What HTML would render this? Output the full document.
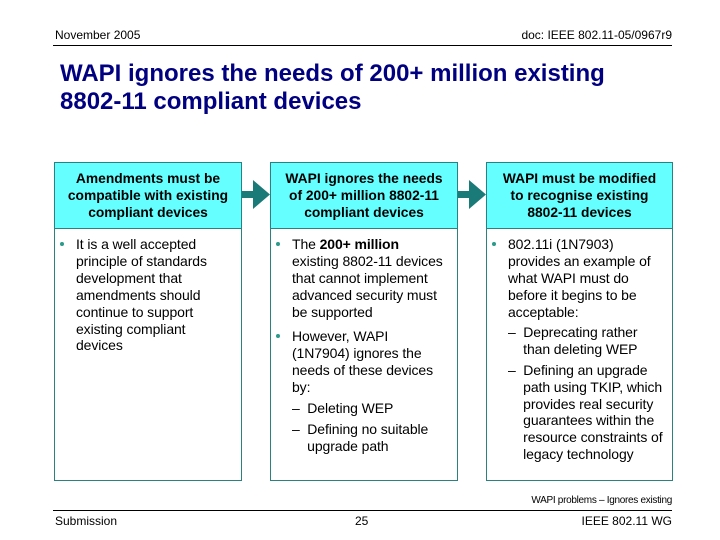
<!DOCTYPE html>
<html><head><meta charset="utf-8"><style>
body{margin:0;width:720px;height:540px;background:#fff;position:relative;overflow:hidden;font-family:"Liberation Sans",Arial,sans-serif;color:#000}
.a{position:absolute;white-space:nowrap}
.t{font-size:14px;line-height:16px;letter-spacing:-0.1px}
.box{position:absolute;border:1px solid #2d8080;box-sizing:border-box}
.hd{position:absolute;background:#66ffff;border:1px solid #2d8080;box-sizing:border-box;font-weight:bold;font-size:13.8px;line-height:17px;text-align:center;padding-top:7px}
.bul{position:absolute;width:4px;height:4px;border-radius:2px;background:#2a9a8a}
</style></head><body>
<div class="a" style="left:55px;top:28px;font-size:12px">November 2005</div>
<div class="a" style="right:48px;top:28px;font-size:12px">doc: IEEE 802.11-05/0967r9</div>
<div class="a" style="left:53px;top:45px;width:619px;height:1px;background:#000"></div>
<div class="a" style="left:60px;top:60px;font-size:24px;font-weight:bold;color:#000080;line-height:28px">WAPI ignores the needs of 200+ million existing<br>8802-11 compliant devices</div>

<div class="box" style="left:54px;top:162px;width:188px;height:319px"></div>
<div class="hd" style="left:54px;top:162px;width:188px;height:67px">Amendments must be<br>compatible with existing<br>compliant devices</div>
<div class="box" style="left:270px;top:162px;width:188px;height:319px"></div>
<div class="hd" style="left:270px;top:162px;width:188px;height:67px">WAPI ignores the needs<br>of 200+ million 8802-11<br>compliant devices</div>
<div class="box" style="left:486px;top:162px;width:187px;height:319px"></div>
<div class="hd" style="left:486px;top:162px;width:187px;height:67px">WAPI must be modified<br>to recognise existing<br>8802-11 devices</div>

<svg class="a" style="left:0;top:0" width="720" height="540">
<path d="M242 191 H253 V180 L270 194.5 L253 209 V198 H242 Z" fill="#1a7a78"/>
<path d="M458 191 H469 V180 L486 194.5 L469 209 V198 H458 Z" fill="#1a7a78"/>
</svg>

<!-- column 1 -->
<div class="bul" style="left:60px;top:242px"></div>
<div class="a t" style="left:76px;top:236px;line-height:16.9px">It is a well accepted<br>principle of standards<br>development that<br>amendments should<br>continue to support<br>existing compliant<br>devices</div>

<!-- column 2 -->
<div class="bul" style="left:276px;top:242px"></div>
<div class="a t" style="left:292px;top:236px;line-height:16.9px">The <b>200+ million</b><br>existing 8802-11 devices<br>that cannot implement<br>advanced security must<br>be supported</div>
<div class="bul" style="left:276px;top:334px"></div>
<div class="a t" style="left:292px;top:328px;line-height:16.9px">However, WAPI<br>(1N7904) ignores the<br>needs of these devices<br>by:</div>
<div class="a t" style="left:292px;top:400px">–&nbsp; Deleting WEP</div>
<div class="a t" style="left:292px;top:421px;line-height:16.5px">–&nbsp; Defining no suitable<br>&nbsp;&nbsp;&nbsp;&nbsp;upgrade path</div>

<!-- column 3 -->
<div class="bul" style="left:492px;top:242px"></div>
<div class="a t" style="left:508px;top:236px;line-height:16.9px">802.11i (1N7903)<br>provides an example of<br>what WAPI must do<br>before it begins to be<br>acceptable:</div>
<div class="a t" style="left:508px;top:324px;line-height:17px">–&nbsp; Deprecating rather<br>&nbsp;&nbsp;&nbsp;&nbsp;than deleting WEP</div>
<div class="a t" style="left:508px;top:362px;line-height:16.8px">–&nbsp; Defining an upgrade<br>&nbsp;&nbsp;&nbsp;&nbsp;path using TKIP, which<br>&nbsp;&nbsp;&nbsp;&nbsp;provides real security<br>&nbsp;&nbsp;&nbsp;&nbsp;guarantees within the<br>&nbsp;&nbsp;&nbsp;&nbsp;resource constraints of<br>&nbsp;&nbsp;&nbsp;&nbsp;legacy technology</div>

<div class="a" style="right:48px;top:495px;font-size:10px;letter-spacing:-0.3px">WAPI problems – Ignores existing</div>
<div class="a" style="left:53px;top:510px;width:619px;height:1px;background:#000"></div>
<div class="a" style="left:55px;top:514px;font-size:12px">Submission</div>
<div class="a" style="left:355px;top:514px;font-size:12px">25</div>
<div class="a" style="right:48px;top:514px;font-size:12px">IEEE 802.11 WG</div>
</body></html>
